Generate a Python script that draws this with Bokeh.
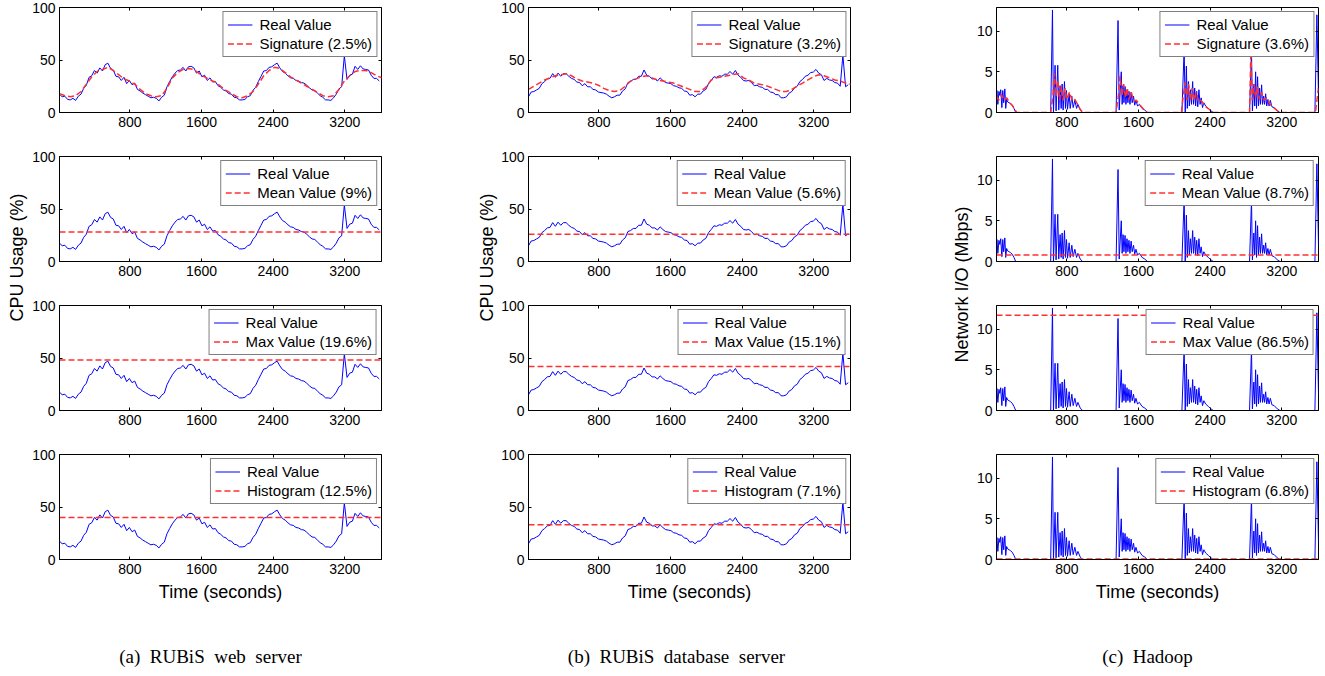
import math
from bokeh.plotting import figure
from bokeh.models import Range1d, FixedTicker, LinearAxis, Legend, LegendItem, Label
from bokeh.layouts import row, column
from bokeh.embed import file_html
from bokeh.resources import INLINE

# ---------------- data ----------------
CPU_T = list(range(15, 3610, 30))          # sample times (s) of the CPU traces
WEB_CPU = [17.5, 15, 15.5, 12.5, 12, 13.5, 11.5, 15.5, 17.5, 23,
           26, 33.5, 35, 40, 37.5, 42.5, 39.5, 45.5, 47, 42,
           40.5, 34.5, 34, 30.5, 33.5, 27.5, 30.5, 26.5, 28, 22,
           20.5, 18.5, 17, 15.5, 14, 14.5, 13.5, 11, 14.5, 16.5,
           24.5, 29.5, 34, 37.5, 40, 40.5, 43, 39.5, 43.5, 44,
           42.5, 37.5, 39.5, 34, 35.5, 30.5, 33, 29, 29.5, 25.5,
           24, 21.5, 20.5, 18, 17.5, 14.5, 14, 12, 12, 12.5,
           15, 16, 21, 24, 29.5, 34.5, 39.5, 40, 43, 43.5,
           45.5, 47, 42.5, 39, 37.5, 35, 33, 32.5, 30.5, 30,
           28.5, 28, 26, 23.5, 21.5, 21, 18.5, 16, 14.5, 12,
           12, 11.5, 14, 17.5, 22.5, 24.5, 54, 31.5, 35.5, 36.5,
           44, 41, 44.5, 41.5, 41, 40.5, 35.5, 32.5, 32.5, 30]
DB_CPU = [15, 19.5, 20, 21.5, 23, 27.5, 29.5, 32, 32.5, 37,
          33.5, 37.5, 34.5, 37, 37, 34.5, 32.5, 31.5, 29, 28.5,
          25.5, 27.5, 24.5, 24.5, 22, 21.5, 19.5, 19, 18.5, 17.5,
          15.5, 14, 15, 16.5, 16.5, 20.5, 22.5, 28.5, 29.5, 31.5,
          31.5, 34.5, 34.5, 40.5, 35.5, 34.5, 32, 32, 30, 33,
          30.5, 28.5, 28, 27.5, 25.5, 25, 23.5, 23, 20.5, 20,
          16.5, 17, 15, 17.5, 17.5, 20.5, 22, 27.5, 30.5, 34,
          33.5, 35, 34.5, 36.5, 36.5, 39, 36.5, 40, 35.5, 33.5,
          30.5, 30, 30.5, 28.5, 25.5, 26, 24.5, 24, 22, 22,
          19.5, 19, 17, 17, 14, 14, 15, 18.5, 20, 23.5,
          25, 29.5, 31.5, 34.5, 35.5, 38, 38.5, 41, 37.5, 36,
          30.5, 32.5, 31, 30.5, 28.5, 28, 25, 54.5, 24.5, 26.5]

SIG_T = list(range(15, 3620, 60))
WEB_SIG = [18, 16, 15, 16, 20, 27, 34, 39, 41, 43,
           40, 36, 32, 30, 27, 22, 18, 16, 15, 16,
           23, 33, 38, 41, 42, 41, 37, 34, 31, 29,
           25, 21, 18, 15, 14, 16, 20, 27, 35, 40,
           43, 42, 38, 34, 31, 28, 25, 22, 19, 16,
           15, 16, 22, 30, 35, 39, 40, 40, 38, 35, 33]
DB_SIG = [22, 25, 28, 31, 33, 35, 36, 37, 35, 32,
          30, 29, 28, 26, 23, 21, 20, 21, 25, 30,
          32, 34, 35, 33, 31, 30, 29, 28, 26, 24,
          22, 20, 20, 24, 31, 33, 34, 35, 36, 37,
          33, 31, 28, 27, 26, 24, 22, 20, 20, 22,
          25, 28, 31, 34, 36, 35, 33, 31, 30, 28, 27]

HADOOP_T = [15, 20, 30, 42, 52, 62, 75, 85, 95, 108, 118, 128, 140, 155, 170, 190, 210, 230,
            620, 640, 651, 669, 680, 699, 710, 725, 737, 748, 759, 774, 785, 796, 808, 826, 838, 856,
            871, 890, 909, 924, 950, 976,
            1350, 1372, 1385, 1408, 1418, 1428, 1438, 1450, 1460, 1472, 1482, 1494, 1505, 1518, 1530,
            1545, 1558, 1572, 1590, 1610, 1640, 1670, 1700,
            2085, 2110, 2122, 2135, 2145, 2158, 2168, 2180, 2192, 2205, 2215, 2228, 2238, 2250, 2262,
            2275, 2288, 2300, 2315, 2330, 2350, 2380, 2410, 2435,
            2840, 2862, 2872, 2888, 2898, 2908, 2918, 2930, 2940, 2952, 2962, 2975, 2985, 2998, 3008,
            3020, 3032, 3045, 3058, 3072, 3090, 3115, 3150, 3180,
            3570, 3592, 3610]
HADOOP_NET = [2.0, 2.7, 1.0, 2.6, 2.1, 2.8, 0.6, 2.7, 1.2, 2.9, 0.5, 1.6, 1.3, 1.2, 1.1, 0.9, 0.5, 0.0,
              0.0, 12.6, 0.0, 5.8, 0.2, 5.8, 0.3, 3.3, 0.5, 3.5, 0.3, 3.8, 0.5, 2.7, 0.4, 2.3, 0.5, 2.0,
              0.6, 1.5, 0.5, 1.0, 0.3, 0.0,
              0.0, 11.3, 0.3, 5.0, 1.0, 3.3, 1.2, 3.2, 1.0, 2.8, 1.2, 2.6, 1.0, 2.5, 1.2,
              2.0, 0.9, 1.5, 0.8, 1.0, 0.5, 0.3, 0.0,
              0.0, 7.8, 0.0, 5.7, 0.5, 3.8, 0.8, 2.8, 1.0, 3.8, 1.0, 3.0, 0.8, 2.6, 0.7,
              2.8, 1.0, 1.8, 0.6, 1.2, 0.8, 0.5, 0.2, 0.0,
              0.0, 7.6, 0.2, 3.5, 0.8, 5.0, 0.5, 4.4, 0.8, 3.0, 1.0, 3.4, 1.0, 2.0, 1.0,
              2.3, 0.8, 1.6, 0.8, 1.5, 0.7, 0.6, 0.2, 0.0,
              0.0, 12.0, 2.0]
HADOOP_SIG_T = [15, 40, 70, 100, 130, 160, 190, 220, 240,
                620, 645, 660, 680, 700, 720, 740, 760, 780, 800, 830, 860, 890, 920, 950, 975,
                1350, 1375, 1395, 1415, 1435, 1455, 1475, 1495, 1520, 1545, 1575, 1610, 1650, 1700,
                2080, 2100, 2120, 2140, 2160, 2180, 2200, 2220, 2245, 2270, 2300, 2340, 2390, 2430,
                2840, 2855, 2870, 2890, 2910, 2930, 2950, 2975, 3000, 3030, 3070, 3120, 3175,
                3575, 3610]
HADOOP_SIG = [2.0, 1.5, 2.2, 1.5, 1.8, 1.2, 0.9, 0.4, 0.0,
              0.0, 2.0, 4.8, 2.0, 4.0, 1.5, 3.2, 1.5, 3.0, 1.6, 2.5, 1.4, 1.6, 1.0, 0.4, 0.0,
              0.0, 2.0, 4.5, 2.0, 3.5, 1.8, 3.0, 1.6, 2.5, 1.4, 1.5, 1.0, 0.5, 0.0,
              0.0, 2.0, 3.7, 1.5, 3.5, 1.5, 3.0, 1.5, 2.5, 1.3, 1.5, 0.8, 0.4, 0.0,
              0.0, 7.5, 1.5, 3.5, 1.8, 3.2, 1.6, 2.5, 1.5, 1.8, 1.0, 0.5, 0.0,
              0.0, 3.0]

WEB_LEVELS = [28, 48, 40]          # mean, max, histogram
DB_LEVELS = [26, 42, 33]
HADOOP_LEVELS = [0.8, 11.7, 0.05]

WEB_LABELS = ["Signature (2.5%)", "Mean Value (9%)", "Max Value (19.6%)", "Histogram (12.5%)"]
DB_LABELS = ["Signature (3.2%)", "Mean Value (5.6%)", "Max Value (15.1%)", "Histogram (7.1%)"]
HADOOP_LABELS = ["Signature (3.6%)", "Mean Value (8.7%)", "Max Value (86.5%)", "Histogram (6.8%)"]

X_TICKS = [800, 1600, 2400, 3200]
CPU_TICKS = [0, 50, 100]
NET_TICKS = [0, 5, 10]
NB = "\u00a0"
CAPTIONS = [f"(a){NB} RUBiS{NB} web{NB} server", f"(b){NB} RUBiS{NB} database{NB} server",
            f"(c){NB} Hadoop"]
YLABELS = ["CPU Usage (%)", "CPU Usage (%)", "Network I/O (Mbps)"]

# ---------------- styling ----------------
X0, X1 = 15, 3610
FH = 105
SANS = "Liberation Sans"
SERIF = "Liberation Serif"
BLUE = "#0000ff"
RED = "#ff3030"


def deco_axis(ticks):
    return LinearAxis(ticker=FixedTicker(ticks=ticks),
                      major_label_overrides={t: "" for t in ticks},
                      major_tick_in=3, major_tick_out=0, minor_tick_in=0, minor_tick_out=0,
                      axis_line_color=None, major_label_standoff=0,
                      major_label_text_font_size="1px")


def panel(real_t, real_v, ref_t, ref_v, label, ymax, yticks, bl, br, fw, last):
    bb = 45 if last else 37
    p = figure(frame_width=fw, frame_height=FH, x_range=Range1d(X0, X1),
               y_range=Range1d(0, ymax), output_backend="svg", toolbar_location=None,
               min_border_left=bl, min_border_right=br, min_border_top=7, min_border_bottom=bb)
    p.xgrid.visible = False
    p.ygrid.visible = False
    p.outline_line_color = "black"
    p.outline_line_alpha = 1
    for ax, ticks in ((p.below[0], X_TICKS), (p.left[0], yticks)):
        ax.ticker = FixedTicker(ticks=ticks)
        ax.major_tick_in = 3
        ax.major_tick_out = 0
        ax.minor_tick_in = 0
        ax.minor_tick_out = 0
        ax.axis_line_color = "black"
        ax.major_label_text_font = SANS
        ax.major_label_text_font_size = "14px"
        ax.major_label_text_color = "black"
        ax.major_label_standoff = 4
    if last:
        ax = p.below[0]
        ax.axis_label = "Time (seconds)"
        ax.axis_label_text_font = SANS
        ax.axis_label_text_font_size = "18px"
        ax.axis_label_text_font_style = "normal"
        ax.axis_label_text_color = "black"
        ax.axis_label_standoff = 5
    p.add_layout(deco_axis(X_TICKS), "above")
    p.add_layout(deco_axis(yticks), "right")

    r1 = p.line(real_t, real_v, line_color=BLUE, line_width=1)
    r2 = p.line(ref_t, ref_v, line_color=RED, line_width=1.5, line_dash="6 3")
    leg = Legend(items=[LegendItem(label="Real Value", renderers=[r1]),
                        LegendItem(label=label, renderers=[r2])],
                 location="top_right", margin=4, padding=4, spacing=2,
                 glyph_width=25, glyph_height=15, label_height=15, label_standoff=7,
                 label_text_font=SANS, label_text_font_size="15px", label_text_color="black",
                 border_line_color="black", border_line_width=1,
                 background_fill_color="white", background_fill_alpha=1)
    p.add_layout(leg)
    return p


def build_column(real_t, real_v, sig_t, sig_v, levels, labels, ymax, yticks, bl, br, fw):
    figs = [panel(real_t, real_v, sig_t, sig_v, labels[0], ymax, yticks, bl, br, fw, False)]
    for i, lev in enumerate(levels):
        figs.append(panel(real_t, real_v, [X0, X1], [lev, lev], labels[i + 1], ymax, yticks,
                          bl, br, fw, i == 2))
    return column(*figs, spacing=0)


def label_fig(w, h, text, cx, cy):
    p = figure(width=w, height=h, x_range=Range1d(0, w), y_range=Range1d(0, h),
               output_backend="svg", toolbar_location=None, min_border=0,
               x_axis_type=None, y_axis_type=None)
    p.grid.visible = False
    p.outline_line_color = None
    p.add_layout(Label(x=cx, y=h - cy, text=text, angle=math.pi / 2, text_align="center",
                       text_baseline="middle", text_font=SANS, text_font_size="18px",
                       text_color="black"))
    return p


COL_H = 149 * 3 + 157
col_a = build_column(CPU_T, WEB_CPU, SIG_T, WEB_SIG, WEB_LEVELS, WEB_LABELS, 100, CPU_TICKS, 28, 49, 322)
col_b = build_column(CPU_T, DB_CPU, SIG_T, DB_SIG, DB_LEVELS, DB_LABELS, 100, CPU_TICKS, 29, 50, 322)
col_c = build_column(HADOOP_T, HADOOP_NET, HADOOP_SIG_T, HADOOP_SIG, HADOOP_LEVELS, HADOOP_LABELS,
                     12.9, NET_TICKS, 23, 4, 322)

lab_a = label_fig(29, COL_H, YLABELS[0], 16, 257)
lab_b = label_fig(68, COL_H, YLABELS[1], 56, 257)
lab_c = label_fig(73, COL_H, YLABELS[2], 61, 284)

CAP_W, CAP_H = 1319, 66
cap = figure(width=CAP_W, height=CAP_H, x_range=Range1d(0, CAP_W), y_range=Range1d(0, CAP_H),
             output_backend="svg", toolbar_location=None, min_border=0,
             x_axis_type=None, y_axis_type=None)
cap.grid.visible = False
cap.outline_line_color = None
for txt, cx in zip(CAPTIONS, [210, 676, 1147]):
    cap.add_layout(Label(x=cx, y=14, text=txt, text_align="center", text_baseline="middle",
                         text_font=SERIF, text_font_size="19px", text_color="black"))

layout = column(row(lab_a, col_a, lab_b, col_b, lab_c, col_c, spacing=0), cap, spacing=0)

with open("out.html", "w") as f:
    f.write(file_html(layout, INLINE))
